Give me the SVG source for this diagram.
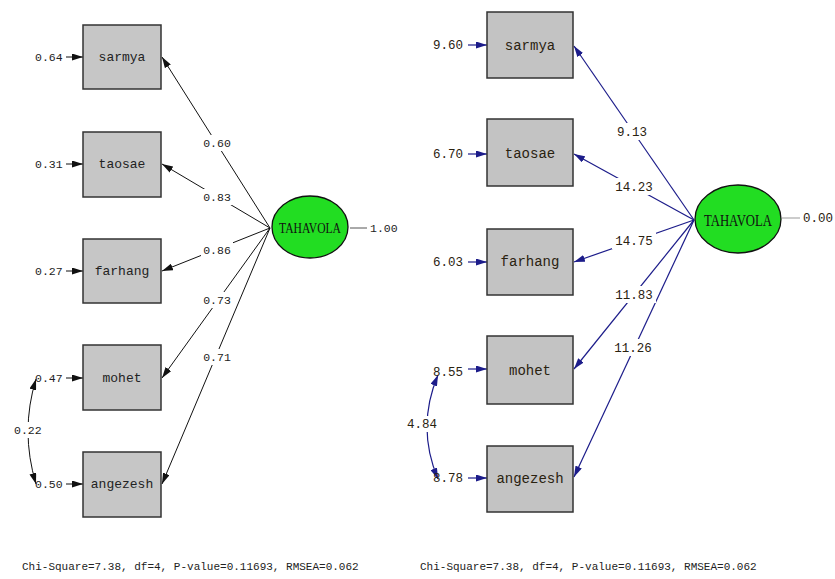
<svg xmlns="http://www.w3.org/2000/svg" width="835" height="579" viewBox="0 0 835 579">
<style>
.t{font-family:"Liberation Mono","DejaVu Sans Mono",monospace;fill:#222}
.lbl{font-size:11.5px}
.rl{font-size:12.5px;fill:#2a2210}
.box{fill:#c6c6c6;stroke:#333;stroke-width:1.5}
.boxr{fill:#c3c3c3;stroke:#333;stroke-width:1.5}
.bt{font-size:13px;text-anchor:middle;dominant-baseline:central}
.btr{font-size:14px;text-anchor:middle;dominant-baseline:central;fill:#2a2210}
.lat{fill:#22dd22;stroke:#111;stroke-width:1.3}
.lt{font-family:"Liberation Serif","DejaVu Serif",serif;fill:#111;text-anchor:middle;dominant-baseline:central}
.bg{fill:#fff}
.kl{stroke:#111;stroke-width:1;fill:none}
.bl{stroke:#1c1c8a;stroke-width:1.2;fill:none}
</style>
<defs>
<marker id="ak" markerWidth="11" markerHeight="7" refX="11" refY="3.5" orient="auto" markerUnits="userSpaceOnUse"><path d="M0,0 L11,3.5 L0,7 Z" fill="#111"/></marker>
<marker id="ab" markerWidth="11" markerHeight="7" refX="11" refY="3.5" orient="auto" markerUnits="userSpaceOnUse"><path d="M0,0 L11,3.5 L0,7 Z" fill="#1c1c8a"/></marker>
<marker id="aks" markerWidth="11" markerHeight="7" refX="11" refY="3.5" orient="auto-start-reverse" markerUnits="userSpaceOnUse"><path d="M0,0 L11,3.5 L0,7 Z" fill="#111"/></marker>
<marker id="abs" markerWidth="11" markerHeight="7" refX="11" refY="3.5" orient="auto-start-reverse" markerUnits="userSpaceOnUse"><path d="M0,0 L11,3.5 L0,7 Z" fill="#1c1c8a"/></marker>
</defs>

<g id="connectors">
  <line class="kl" x1="270" y1="228" x2="162" y2="57" marker-end="url(#ak)"/>
  <line class="kl" x1="270" y1="228" x2="162" y2="164" marker-end="url(#ak)"/>
  <line class="kl" x1="270" y1="228" x2="162" y2="271" marker-end="url(#ak)"/>
  <line class="kl" x1="270" y1="228" x2="162" y2="378" marker-end="url(#ak)"/>
  <line class="kl" x1="270" y1="228" x2="162" y2="484" marker-end="url(#ak)"/>
  <line class="kl" x1="66" y1="57" x2="83" y2="57" marker-end="url(#ak)"/>
  <line class="kl" x1="66" y1="164" x2="83" y2="164" marker-end="url(#ak)"/>
  <line class="kl" x1="66" y1="271" x2="83" y2="271" marker-end="url(#ak)"/>
  <line class="kl" x1="66" y1="378" x2="83" y2="378" marker-end="url(#ak)"/>
  <line class="kl" x1="66" y1="484" x2="83" y2="484" marker-end="url(#ak)"/>
  <line x1="350" y1="228" x2="367" y2="228" stroke="#555" stroke-width="1"/>
  <path class="kl" d="M36,379 Q20,431 36,484" marker-start="url(#aks)" marker-end="url(#aks)"/>
  <line class="bl" x1="694" y1="220" x2="574" y2="46" marker-end="url(#ab)"/>
  <line class="bl" x1="694" y1="220" x2="574" y2="154" marker-end="url(#ab)"/>
  <line class="bl" x1="694" y1="220" x2="574" y2="262" marker-end="url(#ab)"/>
  <line class="bl" x1="694" y1="220" x2="574" y2="369" marker-end="url(#ab)"/>
  <line class="bl" x1="694" y1="220" x2="574" y2="477" marker-end="url(#ab)"/>
  <line class="bl" x1="468" y1="45" x2="487" y2="45" marker-end="url(#ab)"/>
  <line class="bl" x1="468" y1="154" x2="487" y2="154" marker-end="url(#ab)"/>
  <line class="bl" x1="468" y1="262" x2="487" y2="262" marker-end="url(#ab)"/>
  <line class="bl" x1="468" y1="369" x2="487" y2="369" marker-end="url(#ab)"/>
  <line class="bl" x1="468" y1="478" x2="487" y2="478" marker-end="url(#ab)"/>
  <line x1="782" y1="218" x2="800" y2="218" stroke="#aaa" stroke-width="1.2"/>
  <path class="bl" d="M438,375 Q416,427 438,479" marker-start="url(#abs)" marker-end="url(#abs)"/>
</g>

<g id="label_backgrounds">
  <rect class="bg" x="201" y="135" width="32" height="16"/>
  <rect class="bg" x="201" y="189" width="32" height="16"/>
  <rect class="bg" x="201" y="242" width="32" height="16"/>
  <rect class="bg" x="201" y="292" width="32" height="16"/>
  <rect class="bg" x="201" y="349" width="32" height="16"/>
  <rect class="bg" x="14" y="422" width="28" height="16"/>
  <rect class="bg" x="614" y="123" width="36" height="17"/>
  <rect class="bg" x="612" y="178" width="44" height="17"/>
  <rect class="bg" x="612" y="232" width="44" height="17"/>
  <rect class="bg" x="612" y="286" width="44" height="17"/>
  <rect class="bg" x="611" y="339" width="44" height="17"/>
  <rect class="bg" x="407" y="416" width="30" height="16"/>
</g>

<g id="L_sarmya"><rect class="box" x="83" y="25" width="78" height="64"/><text class="t bt" x="122" y="57">sarmya</text></g>
<g id="L_taosae"><rect class="box" x="83" y="132" width="78" height="65"/><text class="t bt" x="122" y="164">taosae</text></g>
<g id="L_farhang"><rect class="box" x="83" y="239" width="78" height="64"/><text class="t bt" x="122" y="271">farhang</text></g>
<g id="L_mohet"><rect class="box" x="83" y="345" width="78" height="65"/><text class="t bt" x="122" y="378">mohet</text></g>
<g id="L_angezesh"><rect class="box" x="83" y="452" width="78" height="65"/><text class="t bt" x="122" y="484">angezesh</text></g>
<g id="L_TAHAVOLA"><ellipse class="lat" cx="310" cy="227" rx="38" ry="31"/><text class="lt" x="310" y="228" font-size="14" textLength="62" lengthAdjust="spacingAndGlyphs">TAHAVOLA</text></g>

<g id="L_labels" class="t lbl">
  <text x="35" y="61">0.64</text>
  <text x="35" y="168">0.31</text>
  <text x="35" y="275">0.27</text>
  <text x="35" y="382">0.47</text>
  <text x="35" y="488">0.50</text>
  <text x="370" y="232">1.00</text>
  <text x="14" y="434">0.22</text>
  <g text-anchor="middle">
    <text x="217" y="147">0.60</text>
    <text x="217" y="201">0.83</text>
    <text x="217" y="254">0.86</text>
    <text x="217" y="304">0.73</text>
    <text x="217" y="361">0.71</text>
  </g>
  <text x="22" y="570" font-size="11">Chi-Square=7.38, df=4, P-value=0.11693, RMSEA=0.062</text>
</g>

<g id="R_sarmya"><rect class="boxr" x="487" y="12" width="86" height="66"/><text class="t btr" x="530" y="46">sarmya</text></g>
<g id="R_taosae"><rect class="boxr" x="487" y="119" width="86" height="67"/><text class="t btr" x="530" y="154">taosae</text></g>
<g id="R_farhang"><rect class="boxr" x="487" y="229" width="86" height="66"/><text class="t btr" x="530" y="262">farhang</text></g>
<g id="R_mohet"><rect class="boxr" x="487" y="336" width="86" height="68"/><text class="t btr" x="530" y="371">mohet</text></g>
<g id="R_angezesh"><rect class="boxr" x="487" y="446" width="86" height="66"/><text class="t btr" x="530" y="479">angezesh</text></g>
<g id="R_TAHAVOLA"><ellipse class="lat" cx="738" cy="219" rx="43" ry="34"/><text class="lt" x="738" y="220" font-size="16" textLength="68" lengthAdjust="spacingAndGlyphs">TAHAVOLA</text></g>

<g id="R_labels" class="t rl">
  <text x="433" y="49">9.60</text>
  <text x="433" y="158">6.70</text>
  <text x="433" y="266">6.03</text>
  <text x="433" y="376">8.55</text>
  <text x="433" y="482">8.78</text>
  <text x="803" y="222">0.00</text>
  <text x="407" y="428">4.84</text>
  <g text-anchor="middle">
    <text x="632" y="136">9.13</text>
    <text x="634" y="191">14.23</text>
    <text x="634" y="245">14.75</text>
    <text x="634" y="299">11.83</text>
    <text x="633" y="352">11.26</text>
  </g>
  <text x="420" y="570" font-size="11" fill="#222">Chi-Square=7.38, df=4, P-value=0.11693, RMSEA=0.062</text>
</g>
</svg>
